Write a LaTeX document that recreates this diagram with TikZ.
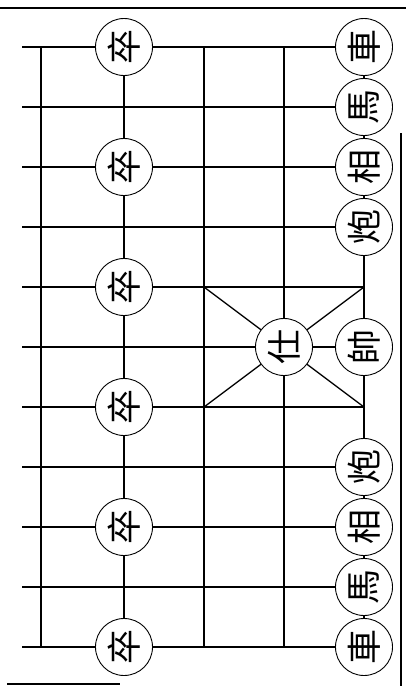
\documentclass[tikz,border=0pt]{standalone}
\usepackage{fontspec}
\newfontfamily\cjk{Noto Sans CJK TC}
\usetikzlibrary{positioning}
\tikzset{
  piece/.style={circle, draw, line width=0.9pt, fill=white, minimum size=57pt,
    inner sep=0pt, font=\cjk\fontsize{35}{35}\selectfont, rotate=90},
  gridline/.style={line width=1.3pt},
  boardframe/.style={line width=1.6pt},
}

\begin{document}
\begin{tikzpicture}[x=1pt, y=-1pt]
  \useasboundingbox (0,0) rectangle (406,686);
  % board
  \foreach \r in {0,...,10}
    \draw[gridline] (22,{47+60*\r}) -- (364,{47+60*\r});
  \foreach \c in {41,124,204,284,364}
    \draw[gridline] (\c,47) -- (\c,647);
  \draw[gridline] (204,287) -- (364,407) (204,407) -- (364,287);
  % black pawns
  \foreach \r in {0,2,...,10}
    \node[piece] (zu\r) at (124,{47+60*\r}) {卒};
  % red side
  \foreach \r/\t in {0/車,1/馬,2/相,3/炮,5/帥,7/炮,8/相,9/馬,10/車}
    \node[piece] (red\r) at (364,{47+60*\r}) {\t};
  \node[piece] (shi) at (284,347) {仕};
  % frame
  \draw[boardframe] (0,8) -- (406,8);
  \draw[boardframe] (401,133) -- (401,686);
  \draw[boardframe] (7,684) -- (120,684);
\end{tikzpicture}
\end{document}
